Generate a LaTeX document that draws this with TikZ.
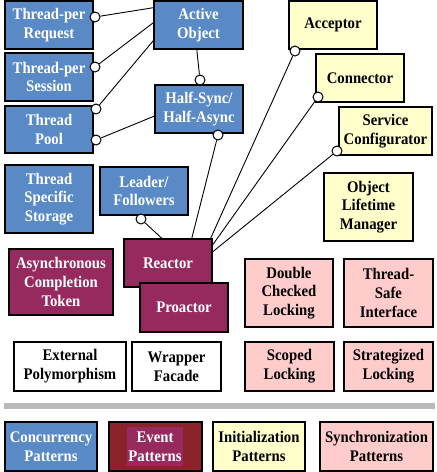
\documentclass[tikz,border=0pt]{standalone}
\usepackage{fontspec}
\setmainfont[FakeStretch=0.91]{Liberation Serif}
\usepackage{xcolor}
\usetikzlibrary{positioning}

\definecolor{concblue}{RGB}{90,138,198}
\definecolor{eventred}{RGB}{150,42,95}
\definecolor{eventdark}{RGB}{139,36,42}
\definecolor{inityellow}{RGB}{255,255,204}
\definecolor{syncpink}{RGB}{255,204,204}
\definecolor{bargray}{RGB}{185,185,185}

\tikzset{
pbox/.style={draw, line width=1.2pt, align=center, inner sep=0pt, font=\bfseries\fontsize{16.2}{18.8}\selectfont},
conc/.style={pbox, fill=concblue, text=white},
event/.style={pbox, fill=eventred, text=white},
init/.style={pbox, fill=inityellow},
sync/.style={pbox, fill=syncpink},
plain/.style={pbox, fill=white},
sz/.style 2 args={minimum width=#1pt, minimum height=#2pt},
lolly/.style={draw, circle, fill=white, inner sep=0pt, minimum size=10pt, line width=1pt}
}

\begin{document}
\begin{tikzpicture}[x=1pt, y=-1pt, line width=0.9pt]
\useasboundingbox (0,0) rectangle (437,472);


% Concurrency patterns: Blue
\node[conc, sz={88}{48}] (tpr) at (49,25) {Thread-per\\Request};
\node[conc, sz={88}{48}] (tps) at (49,77) {Thread-per\\Session};
\node[conc, sz={88}{47}] (pool) at (49,129.5) {Thread\\Pool};
\node[conc, sz={88}{68}] (tss) at (49,199) {Thread\\Specific\\Storage};
\node[conc, sz={89}{48}] (ao) at (198.5,25) {Active\\Object};
\node[conc, sz={88}{48}] (hs) at (199,109) {Half-Sync/\\Half-Async};
\node[conc, sz={88}{48}] (lf) at (144,191) {Leader/\\Followers};


% Event patterns: Red
\node[event, sz={104}{66}] (act) at (61,282) {Asynchronous\\Completion\\Token};
\node[event, sz={88}{48}] (reactor) at (168,263) {Reactor};
\node[event, sz={88}{49}] (proactor) at (184,307.5) {Proactor};


% Initialization patterns: Yellow
\node[init, sz={88}{48}] (acceptor) at (333,25) {Acceptor};
\node[init, sz={88}{48}] (connector) at (360,78) {Connector};
\node[init, sz={93}{48}] (svc) at (385.5,131) {Service\\Configurator};
\node[init, sz={89}{68}] (olm) at (368.5,207) {Object\\Lifetime\\Manager};


% Synchronization patterns: Pink
\node[sync, sz={88}{68}] (dcl) at (289,293) {Double\\Checked\\Locking};
\node[sync, sz={89}{68}] (tsi) at (388.5,293) {Thread-\\Safe\\Interface};
\node[sync, sz={89}{49}] (sl) at (289.5,366.5) {Scoped\\Locking};
\node[sync, sz={89}{49}] (stl) at (388.5,366.5) {Strategized\\Locking};


% The rest: White
\node[plain, sz={112}{49}] (ep) at (70,366.5) {External\\Polymorphism};
\node[plain, sz={89}{49}] (wf) at (176.5,366.5) {Wrapper\\Facade};


% Lollipops and connectors
\foreach \name/\x/\y in {tprc/95/17, tpsc/95/67, poolca/96/109, poolcb/96/140, hsca/200/80,
  hscb/218/135, lfc/141/219, accc/295/51, connc/318/97, svcc/337/151}
{
\node[lolly] (\name) at (\x,\y) {};
}
\foreach \a/\b in {tprc/ao.159, tpsc/ao.177, poolca/ao.199, poolcb/hs.189, hsca/ao.266,
  hscb/reactor.46, lfc/reactor.104, accc/reactor.30, connc/reactor.22, svcc/reactor.14}
{
\draw (\a) -- (\b);
}


% Separator bar: Gray
\fill[bargray] (4,403) rectangle (435,409);


% Legend
\node[conc, sz={92}{49}] (legconc) at (51,446.5) {Concurrency\\Patterns};
\draw[fill=eventdark, line width=1.2pt] (109,422) rectangle (202,471);
\node[event, draw=none, sz={56}{39}] (legevent) at (155,446.5) {Event\\Patterns};
\node[init, sz={92}{49}] (leginit) at (259,446.5) {Initialization\\Patterns};
\node[sync, sz={113}{49}] (legsync) at (376.5,446.5) {Synchronization\\Patterns};

\end{tikzpicture}
\end{document}
